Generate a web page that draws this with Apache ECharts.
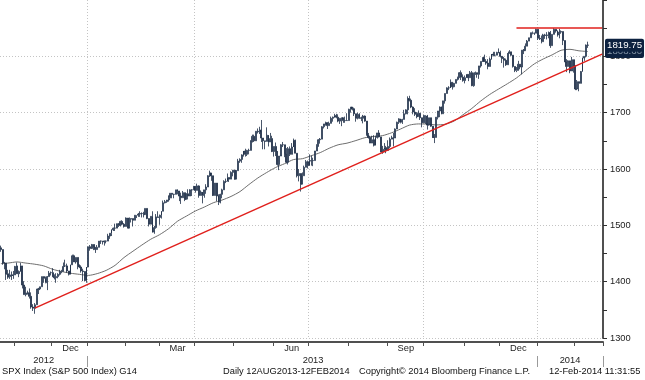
<!DOCTYPE html>
<html><head><meta charset="utf-8">
<script src="https://cdn.jsdelivr.net/npm/echarts@6/dist/echarts.min.js"></script>
<style>html,body{margin:0;padding:0;background:#fff}#c{width:645px;height:380px}</style>
</head><body><div id="c"></div>
<script>
// Months shown on the axis (trading-day based), with number of trading-day slots in each
const monthNames = ['Oct','Nov','Dec','Jan','Feb','Mar','Apr','May','Jun','Jul','Aug','Sep','Oct','Nov','Dec','Jan','Feb'];
const monthYears = [2012,2012,2012,2013,2013,2013,2013,2013,2013,2013,2013,2013,2013,2013,2013,2014,2014];
const monthDays  = [8,21,20,21,19,20,22,22,20,22,22,20,23,20,21,21,16];
const labeledMonths = [2,5,8,11,14]; // Dec, Mar, Jun, Sep, Dec
const yearNames = ['2012','2013','2014'];

// Daily OHLC (SPX)
const openV = [
1460,1457,1433,1433,1414,1409,1412,1411,
1412,1428,1414,1418,1428,1394,1377,1380,1380,1374,1355,1353,1359,1387,1387,1391,1409,1406,1398,1409,1416,
1416,1409,1407,1409,1413,1418,1418,1428,1428,1419,1413,1430,1446,1435,1443,1430,1426,1419,1418,1402,
1426,1462,1459,1466,1461,1457,1461,1472,1472,1471,1472,1472,1481,1486,1492,1495,1495,1503,1500,1507,1502,
1498,1513,1495,1511,1512,1509,1518,1518,1520,1521,1521,1519,1530,1512,1502,1516,1488,1496,1515,
1514,1518,1525,1540,1542,1545,1552,1557,1555,1555,1563,1561,1552,1549,1558,1546,1556,1552,1563,1563,
1569,1562,1570,1553,1559,1553,1563,1568,1588,1593,1588,1553,1575,1552,1541,1555,1563,1578,1578,1585,1582,1594,
1598,1582,1597,1614,1617,1625,1632,1626,1633,1633,1650,1658,1650,1667,1666,1669,1655,1650,1649,1660,1648,1654,
1631,1640,1631,1608,1623,1643,1643,1627,1612,1636,1626,1639,1651,1628,1588,1592,1573,1588,1603,1613,
1606,1614,1615,1615,1632,1640,1652,1653,1675,1680,1682,1677,1681,1690,1692,1695,1692,1685,1690,1691,1686,1686,
1686,1706,1710,1707,1698,1690,1697,1691,1690,1694,1685,1661,1656,1646,1652,1642,1656,1664,1657,1630,1635,1638,
1633,1640,1653,1655,1655,1671,1683,1689,1683,1688,1698,1705,1725,1722,1710,1701,1697,1693,1699,1691,
1682,1695,1694,1678,1691,1676,1656,1656,1692,1703,1710,1698,1721,1734,1744,1744,1754,1746,1752,1759,1762,1771,1763,
1757,1762,1768,1762,1771,1748,1770,1771,1768,1783,1791,1798,1791,1788,1782,1795,1804,1802,1802,1807,
1806,1800,1796,1793,1785,1805,1808,1802,1782,1775,1775,1786,1781,1811,1810,1818,1827,1833,1842,1841,1841,
1848,1832,1831,1826,1838,1837,1838,1842,1819,1839,1848,1845,1838,1843,1844,1828,1790,1782,1792,1774,1794,
1783,1742,1755,1752,1773,1797,1800,1820];
const closeV = [
1457,1433,1434,1413,1408,1412,1411,1412,
1427,1414,1418,1428,1394,1377,1380,1380,1374,1355,1353,1359,1387,1387,1391,1409,1406,1399,1409,1415,1416,
1409,1407,1409,1413,1418,1418,1427,1428,1419,1413,1430,1446,1435,1443,1430,1426,1419,1418,1402,1426,
1462,1459,1466,1461,1457,1461,1472,1472,1471,1472,1472,1481,1486,1492,1495,1495,1503,1500,1507,1502,1498,
1513,1495,1511,1512,1509,1518,1518,1520,1521,1521,1519,1530,1512,1502,1516,1488,1496,1515,1514,
1518,1525,1540,1542,1545,1552,1557,1555,1555,1563,1561,1552,1549,1558,1546,1556,1552,1563,1563,1569,
1562,1570,1553,1559,1553,1563,1568,1588,1593,1588,1553,1575,1552,1541,1555,1563,1578,1578,1585,1582,1594,1598,
1582,1597,1614,1617,1625,1632,1626,1633,1633,1650,1658,1650,1667,1666,1669,1655,1650,1649,1660,1648,1654,1631,
1640,1631,1608,1623,1643,1643,1627,1612,1636,1626,1639,1651,1628,1588,1592,1573,1588,1603,1613,1606,
1614,1615,1615,1632,1640,1652,1653,1675,1680,1682,1677,1681,1690,1692,1695,1692,1685,1690,1691,1686,1686,1686,
1706,1710,1707,1698,1690,1697,1691,1690,1694,1685,1661,1656,1646,1652,1642,1656,1664,1657,1630,1635,1638,1633,
1640,1653,1655,1655,1671,1683,1689,1683,1688,1698,1705,1725,1722,1710,1701,1697,1693,1699,1691,1682,
1695,1694,1678,1691,1676,1656,1656,1692,1703,1710,1698,1721,1734,1744,1744,1754,1746,1752,1759,1762,1771,1763,1757,
1762,1768,1762,1771,1748,1770,1771,1768,1783,1791,1798,1791,1788,1782,1795,1804,1802,1802,1807,1806,
1800,1796,1793,1785,1805,1808,1802,1782,1775,1775,1786,1781,1811,1810,1818,1827,1833,1842,1841,1841,1848,
1832,1831,1826,1838,1837,1838,1842,1819,1839,1848,1845,1838,1843,1844,1828,1790,1782,1792,1774,1794,1783,
1742,1755,1752,1773,1797,1800,1820,1819.75];
const lowV = [
1453,1430,1422,1403,1405,1405,1403,1405,
1412,1414,1408,1418,1388,1377,1374,1377,1370,1352,1348,1343,1359,1378,1385,1391,1398,1397,1385,1409,1411,
1408,1404,1398,1406,1411,1415,1418,1426,1416,1411,1413,1430,1435,1432,1422,1424,1416,1401,1401,1398,
1426,1455,1458,1456,1451,1457,1461,1467,1466,1464,1468,1472,1476,1481,1490,1490,1495,1497,1498,1500,1496,
1498,1495,1495,1505,1498,1509,1513,1515,1515,1514,1514,1519,1511,1498,1502,1487,1485,1494,1514,
1501,1512,1525,1539,1540,1542,1548,1548,1548,1555,1555,1543,1538,1549,1543,1546,1546,1552,1552,1563,
1558,1562,1549,1553,1539,1549,1556,1568,1586,1579,1552,1553,1543,1536,1539,1548,1563,1575,1578,1577,1582,1587,
1581,1582,1597,1611,1611,1622,1622,1623,1626,1633,1647,1648,1650,1663,1662,1648,1635,1635,1649,1640,1648,1630,
1622,1623,1606,1598,1623,1639,1621,1610,1608,1623,1626,1639,1628,1585,1578,1560,1573,1588,1603,1601,
1606,1606,1605,1615,1632,1640,1645,1653,1672,1677,1671,1677,1681,1684,1691,1690,1683,1680,1676,1682,1682,1686,
1686,1700,1704,1694,1684,1688,1689,1685,1681,1684,1659,1654,1646,1646,1640,1642,1654,1656,1630,1627,1630,1628,
1633,1637,1653,1640,1655,1671,1680,1681,1680,1688,1697,1697,1720,1708,1697,1694,1690,1693,1687,1674,
1682,1680,1670,1677,1675,1655,1646,1656,1688,1692,1697,1698,1716,1734,1740,1744,1741,1745,1752,1757,1762,1758,1755,
1752,1762,1756,1762,1747,1746,1767,1762,1760,1780,1790,1790,1785,1777,1782,1794,1800,1800,1802,1806,
1798,1788,1780,1783,1785,1805,1801,1780,1772,1772,1775,1777,1768,1804,1810,1818,1827,1833,1839,1838,1841,
1829,1829,1823,1826,1831,1830,1832,1815,1819,1839,1842,1835,1832,1840,1820,1790,1772,1782,1770,1774,1771,
1740,1740,1738,1752,1773,1792,1798,1815];
const highV = [
1464,1457,1435,1433,1421,1421,1418,1419,
1428,1434,1420,1433,1428,1401,1391,1384,1388,1381,1360,1362,1387,1389,1391,1409,1409,1409,1410,1419,1418,
1424,1413,1415,1415,1421,1421,1434,1439,1432,1419,1430,1448,1448,1443,1443,1430,1429,1423,1418,1426,
1462,1465,1467,1466,1461,1465,1472,1473,1472,1473,1473,1485,1486,1493,1496,1503,1503,1504,1508,1509,1504,
1514,1513,1514,1512,1512,1518,1518,1522,1525,1523,1524,1530,1530,1512,1516,1525,1499,1520,1525,
1519,1525,1544,1545,1545,1553,1557,1557,1556,1563,1564,1561,1558,1561,1558,1557,1564,1564,1564,1570,
1570,1574,1571,1562,1559,1563,1573,1589,1597,1593,1588,1575,1575,1555,1556,1565,1580,1583,1592,1585,1596,1598,
1598,1598,1618,1619,1626,1632,1636,1634,1636,1651,1661,1661,1667,1672,1675,1687,1655,1650,1674,1660,1664,1659,
1640,1647,1632,1623,1644,1648,1643,1637,1639,1640,1646,1654,1652,1628,1600,1592,1594,1606,1616,1615,
1626,1624,1620,1632,1644,1653,1655,1676,1680,1684,1683,1684,1693,1693,1698,1698,1697,1690,1691,1691,1693,1699,
1707,1710,1710,1709,1698,1700,1699,1693,1696,1695,1685,1664,1659,1659,1660,1659,1664,1669,1657,1641,1646,1641,
1651,1656,1659,1664,1672,1684,1690,1689,1689,1705,1706,1729,1730,1725,1711,1708,1701,1704,1699,1691,
1696,1695,1696,1691,1691,1676,1662,1692,1703,1711,1711,1721,1734,1745,1747,1759,1754,1753,1759,1764,1772,1775,1768,
1766,1768,1768,1774,1774,1771,1773,1771,1783,1791,1798,1803,1795,1795,1798,1804,1808,1808,1808,1814,
1810,1800,1799,1796,1806,1811,1808,1802,1782,1781,1792,1786,1811,1813,1823,1829,1833,1842,1844,1842,1849,
1848,1838,1837,1840,1840,1843,1844,1845,1839,1850,1848,1846,1849,1846,1844,1828,1795,1793,1792,1799,1794,
1784,1758,1755,1774,1798,1800,1821,1826];

// 50-day moving average, read at every 5th trading day (index into the day list)
const maIndex = [0,4,9,14,19,24,29,34,39,44,49,54,59,64,69,74,79,84,89,94,99,104,109,114,119,124,129,134,139,144,149,154,159,164,169,174,179,184,189,194,199,204,209,214,219,224,229,234,239,244,249,254,259,264,269,274,279,284,289,294,299,304,309,314,319,324,329];
const maValue = [1432,1433,1435,1433,1431,1428,1422,1418,1415,1413,1411.1,1414.3,1420.0,1429.0,1442.8,1454.0,1465.0,1475.3,1483.5,1494.0,1507.3,1516.4,1525.4,1532.4,1540.0,1544.9,1551.3,1559.9,1572.3,1584.0,1593.8,1602.7,1609.4,1616.7,1618.3,1623.6,1629.1,1636.8,1642.9,1645.9,1650.5,1655.5,1657.8,1659.3,1664.3,1670.9,1677.9,1680.0,1679.7,1678.3,1679.4,1685.1,1696.2,1707.6,1720.8,1732.3,1742.0,1751.5,1761.6,1774.3,1786.6,1795.3,1802.6,1810.7,1812.4,1809.8,1808.6];

// Trend lines drawn on the chart: [dayIndex, level]
const supportLine = [[19,1353],[337,1804]];
const resistanceLine = [[289,1850.8],[337,1850.8]];
const lastPrice = 1819.75;

const yTicks = {min:1300, max:1900, step:100};

// ---- build categories
const categories = [], catMonth = [], catDay = [];
monthNames.forEach((m,i)=>{ for(let d=0; d<monthDays[i]; d++){ categories.push(monthYears[i]+'-'+m+'-'+(d+1)); catMonth.push(i); catDay.push(d);} });
const labelIdx = new Set();
labeledMonths.forEach(mi=>{ const s = catMonth.indexOf(mi); labelIdx.add(s + Math.floor(monthDays[mi]/2)); });
const yearIdx = {};
yearNames.forEach(y=>{ const idxs = categories.map((c,i)=>c.startsWith(y)?i:-1).filter(i=>i>=0); const s=idxs[0], e=idxs[idxs.length-1]+1; yearIdx[Math.floor((s+e)/2)] = y; });
const quarterStart = ['Jan','Apr','Jul','Oct'];

const ohlc = closeV.map((c,i)=>[openV[i], c, lowV[i], highV[i]]);
const maData = maIndex.map((k,i)=>[categories[k], maValue[i]]);

const FONT = 'Liberation Sans, Arial, sans-serif';
const HIDE = 'rgba(0,0,0,0)';
const chart = echarts.init(document.getElementById('c'), null, {renderer:'canvas'});
chart.setOption({
  animation:false,
  backgroundColor:'#fff',
  grid:{left:0, right:42, top:0, bottom:42},
  xAxis:[{
    type:'category', data:categories, boundaryGap:true, offset:4,
    axisLine:{show:true, lineStyle:{color:'#505050', width:2}},
    axisTick:{show:true, length:4, interval:(i)=>i>0 && catDay[i]===0, lineStyle:{color:'#505050'}},
    axisLabel:{interval:(i)=>labelIdx.has(i), formatter:(v,i)=>monthNames[catMonth[i]], margin:2, fontSize:9.3, fontFamily:FONT, color:'#222'},
    splitLine:{show:true, interval:(i)=>i>0 && catDay[i]===0 && quarterStart.includes(monthNames[catMonth[i]]), lineStyle:{color:'#c4c4c4', type:[1,2], width:1}}
  },{
    type:'category', data:categories, boundaryGap:true, position:'bottom', offset:18,
    axisLine:{show:false},
    axisTick:{show:true, length:11, interval:(i)=>i>0 && catDay[i]===0 && monthNames[catMonth[i]]==='Jan', lineStyle:{color:'#9a9a9a', width:1}},
    axisLabel:{interval:(i)=>yearIdx[i]!==undefined, formatter:(v,i)=>yearIdx[i], margin:0, fontSize:9.3, fontFamily:FONT, color:'#222'},
    splitLine:{show:false}
  }],
  yAxis:{
    type:'value', position:'right', min:yTicks.min, max:yTicks.max, interval:yTicks.step,
    axisLine:{show:true, lineStyle:{color:'#505050', width:2}},
    axisTick:{show:true, length:4, lineStyle:{color:'#303030'}},
    minorTick:{show:true, splitNumber:2, length:4, lineStyle:{color:'#303030'}},
    axisLabel:{margin:7, fontSize:9.3, fontFamily:FONT, color:'#222', showMaxLabel:false, formatter:(v)=>String(v)},
    splitLine:{show:true, lineStyle:{color:['#c4c4c4','#c4c4c4','#c4c4c4','#c4c4c4','#c4c4c4','#c4c4c4',HIDE], type:[1,2], width:1}}
  },
  series:[{
    type:'line', data:maData, showSymbol:false, smooth:0.25, z:3,
    lineStyle:{color:'#6e6e6e', width:1},
    markLine:{silent:true, symbol:['none','none'], animation:false,
      lineStyle:{color:HIDE, width:0},
      label:{show:true, position:'end', distance:2, formatter:(p)=>Number(p.value).toFixed(2), backgroundColor:'#0d2240', color:'#8899aa', padding:[2,2,1,2], fontSize:9.7, fontFamily:FONT, borderRadius:2},
      data:[{yAxis:maValue[maValue.length-1]}]}
  },{
    type:'candlestick', data:ohlc, z:4, barWidth:1.4,
    itemStyle:{color:'#a9bbcf', color0:'#1c2c45', borderColor:'#1c2c45', borderColor0:'#1c2c45', borderWidth:0.8},
    markLine:{silent:true, symbol:['none','none'], animation:false,
      data:[
        [{coord:[categories[supportLine[0][0]], supportLine[0][1]], lineStyle:{color:'#e0201c', width:1.5, type:'solid'}, label:{show:false}},
         {coord:[categories[supportLine[1][0]], supportLine[1][1]]}],
        [{coord:[categories[resistanceLine[0][0]], resistanceLine[0][1]], lineStyle:{color:'#e0201c', width:1.5, type:'solid'}, label:{show:false}},
         {coord:[categories[resistanceLine[1][0]], resistanceLine[1][1]]}],
        {yAxis:lastPrice, lineStyle:{color:HIDE, width:0},
         label:{show:true, position:'end', distance:2, formatter:lastPrice.toFixed(2), backgroundColor:'#0d2240', color:'#ffffff', padding:[2,2,1,2], fontSize:9.7, fontFamily:FONT, borderRadius:2}}
      ]}
  }],
  graphic:[
    {type:'text', left:2, top:367, style:{text:'SPX Index (S&P 500 Index) G14', fontSize:9.3, fontFamily:FONT, fill:'#111'}},
    {type:'text', left:223, top:367, style:{text:'Daily 12AUG2013-12FEB2014', fontSize:9.3, fontFamily:FONT, fill:'#111'}},
    {type:'text', left:359, top:367, style:{text:'Copyright\u00a9 2014 Bloomberg Finance L.P.', fontSize:9.3, fontFamily:FONT, fill:'#111'}},
    {type:'text', left:549, top:367, style:{text:'12-Feb-2014 11:31:55', fontSize:9.3, fontFamily:FONT, fill:'#111'}}
  ]
});
</script></body></html>
